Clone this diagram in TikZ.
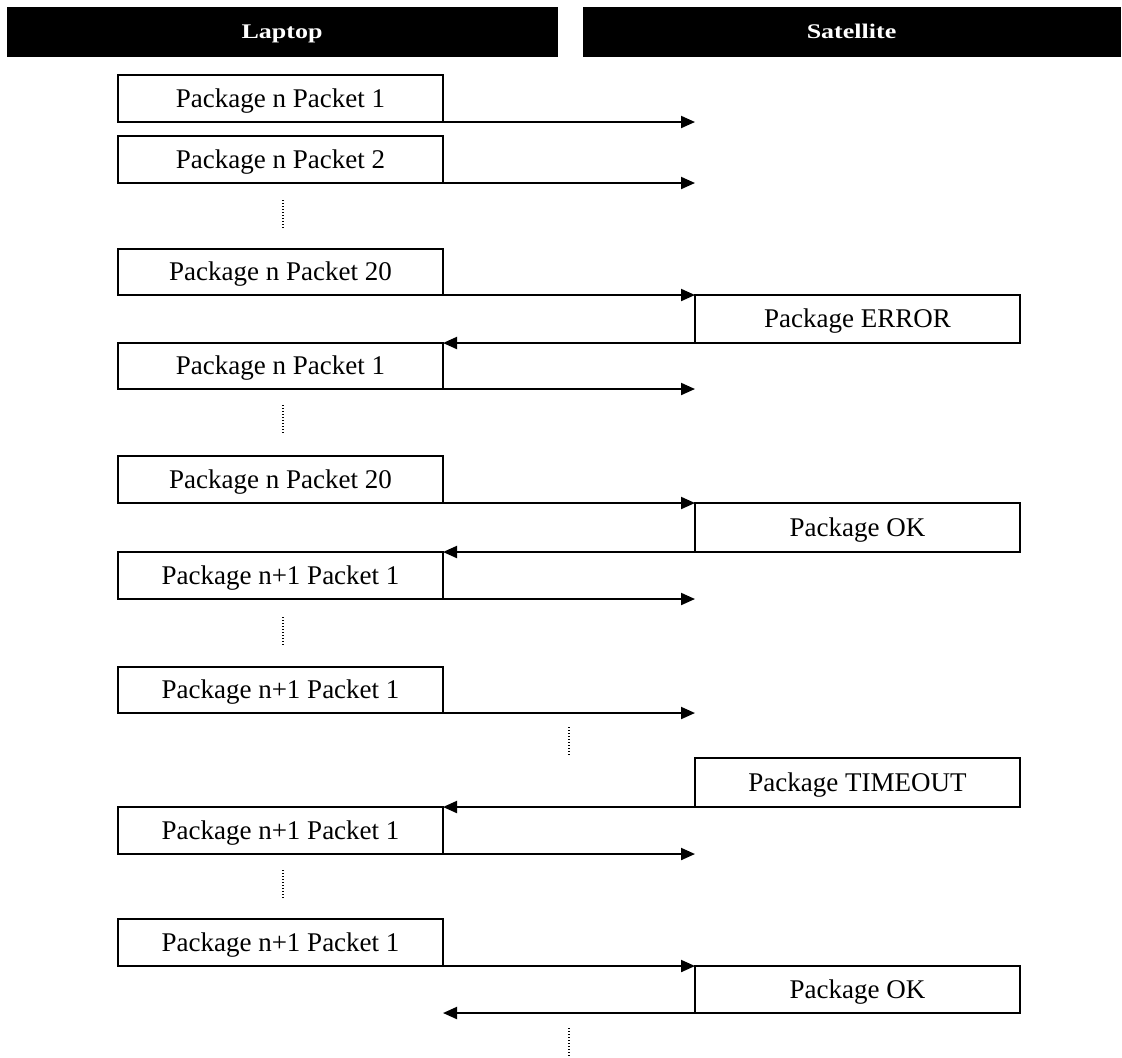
\documentclass[tikz,border=0pt]{standalone}
\usepackage{fontspec}
\usepackage{graphicx}
\setmainfont{Liberation Serif}
\usetikzlibrary{arrows.meta}

% lane title: bold, slightly compressed vertically
\newcommand{\lanetitle}[1]{\scalebox{1}[0.8]{#1}}

\begin{document}
\begin{tikzpicture}[x=0.5pt, y=-0.5pt,
  head/.style={fill=black, draw=black, text=white, anchor=north west,
    inner sep=0pt, outer sep=0pt, minimum height=24.5pt,
    text height=6.8pt, text depth=0pt,
    font=\fontsize{13}{15}\selectfont\bfseries},
  lbox/.style={draw=black, line width=0.8pt, anchor=north west, inner sep=0pt,
    outer sep=0pt, minimum width=162.5pt, text height=8.9pt, text depth=0pt,
    font=\fontsize{13.5}{16}\selectfont},
  rbox/.style={lbox},
  msg/.style={line width=1pt, -{Triangle[length=7pt, width=6pt]}},
  dots/.style={line width=0.7pt, dash pattern=on 0.5pt off 1pt}]

  \useasboundingbox (0,0) rectangle (1122,1057);

  % lane headers
  \node[head, minimum width=275pt] (laptop) at (7,7) {\lanetitle{Laptop}};
  \node[head, minimum width=268.5pt] (sat) at (583,7) {\lanetitle{Satellite}};

  % packets sent by the laptop
  \node[lbox, minimum height=23.5pt] (L1) at (118,75)  {Package n Packet 1};
  \node[lbox, minimum height=23.5pt] (L2) at (118,136) {Package n Packet 2};
  \node[lbox, minimum height=23pt]   (L3) at (118,249) {Package n Packet 20};
  \node[lbox, minimum height=23pt]   (L4) at (118,343) {Package n Packet 1};
  \node[lbox, minimum height=23.5pt] (L5) at (118,456) {Package n Packet 20};
  \node[lbox, minimum height=23.5pt] (L6) at (118,552) {Package n+1 Packet 1};
  \node[lbox, minimum height=23pt]   (L7) at (118,667) {Package n+1 Packet 1};
  \node[lbox, minimum height=23.5pt] (L8) at (118,807) {Package n+1 Packet 1};
  \node[lbox, minimum height=23.5pt] (L9) at (118,919) {Package n+1 Packet 1};

  % replies from the satellite
  \node[rbox, minimum height=24pt]   (R1) at (695,295) {Package ERROR};
  \node[rbox, minimum height=24.5pt] (R2) at (695,503) {Package OK};
  \node[rbox, minimum height=24.5pt] (R3) at (695,758) {Package TIMEOUT};
  \node[rbox, minimum height=23.5pt] (R4) at (695,966) {Package OK};

  % free arrow ends on the satellite side
  \coordinate (e1) at (695,122);
  \coordinate (e2) at (695,183);
  \coordinate (e4) at (695,389);
  \coordinate (e6) at (695,599);
  \coordinate (e7) at (695,713);
  \coordinate (e8) at (695,854);
  \coordinate (b4) at (443,1013);

  % laptop -> satellite
  \draw[msg] (L1.south east) -- (e1);
  \draw[msg] (L2.south east) -- (e2);
  \draw[msg] (L3.south east) -- (R1.north west);
  \draw[msg] (L4.south east) -- (e4);
  \draw[msg] (L5.south east) -- (R2.north west);
  \draw[msg] (L6.south east) -- (e6);
  \draw[msg] (L7.south east) -- (e7);
  \draw[msg] (L8.south east) -- (e8);
  \draw[msg] (L9.south east) -- (R4.north west);

  % satellite -> laptop
  \draw[msg] (R1.south west) -- (L4.north east);
  \draw[msg] (R2.south west) -- (L6.north east);
  \draw[msg] (R3.south west) -- (L8.north east);
  \draw[msg] (R4.south west) -- (b4);

  % elided steps
  \draw[dots] (283,200) -- (283,230);
  \draw[dots] (283,405) -- (283,435);
  \draw[dots] (283,617) -- (283,647);
  \draw[dots] (283,870) -- (283,900);
  \draw[dots] (569,727) -- (569,757);
  \draw[dots] (569,1028) -- (569,1057);
\end{tikzpicture}
\end{document}
